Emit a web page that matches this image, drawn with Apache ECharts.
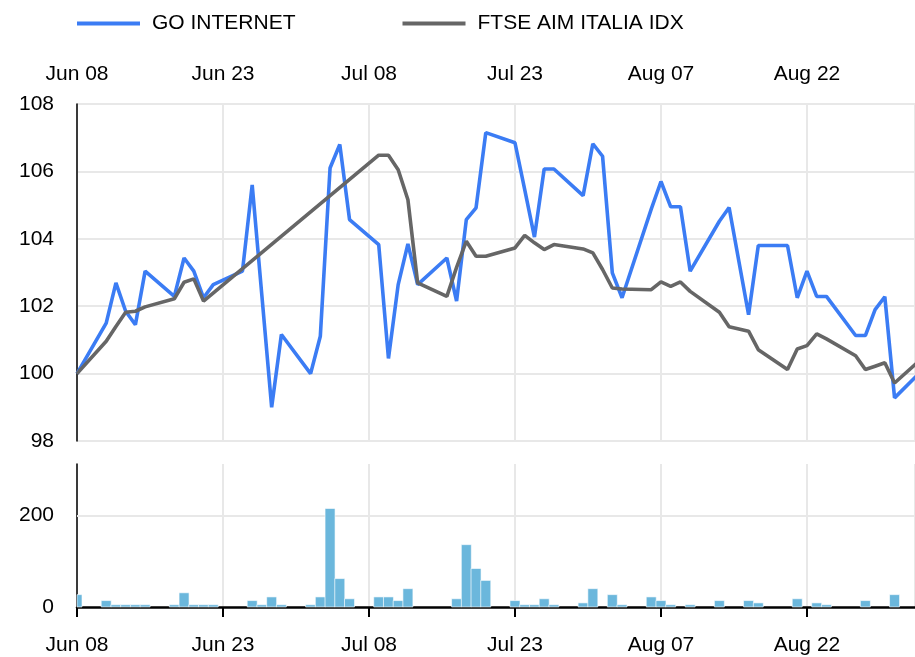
<!DOCTYPE html>
<html><head><meta charset="utf-8">
<script src="https://cdn.jsdelivr.net/npm/echarts@6/dist/echarts.min.js"></script>
<style>html,body{margin:0;padding:0;background:#fff}#c{width:915px;height:657px}</style>
</head><body><div id="c"></div>
<script>
// ---- data (2018) ----
const priceDates = ['Jun 08','Jun 11','Jun 12','Jun 13','Jun 14','Jun 15','Jun 18','Jun 19','Jun 20','Jun 21','Jun 22','Jun 25','Jun 26','Jun 27','Jun 28','Jun 29',
  'Jul 02','Jul 03','Jul 04','Jul 05','Jul 06','Jul 09','Jul 10','Jul 11','Jul 12','Jul 13','Jul 16','Jul 17','Jul 18','Jul 19','Jul 20','Jul 23','Jul 24','Jul 25','Jul 26','Jul 27','Jul 30','Jul 31',
  'Aug 01','Aug 02','Aug 03','Aug 06','Aug 07','Aug 08','Aug 09','Aug 10','Aug 13','Aug 14','Aug 16','Aug 17','Aug 20','Aug 21','Aug 22','Aug 23','Aug 24','Aug 27','Aug 28','Aug 29','Aug 30','Aug 31','Sep 03'];
const goInternet = [100.0,101.50,102.69,101.85,101.45,103.04,102.29,103.43,103.04,102.25,102.64,103.04,105.60,102.30,99.0,101.16,
  100.0,101.11,106.10,106.80,104.57,103.83,100.45,102.64,103.85,102.64,103.43,102.15,104.57,104.92,107.15,106.85,105.46,104.05,106.07,106.07,105.28,106.82,
  106.45,102.99,102.25,104.88,105.70,104.95,104.95,103.04,104.52,104.93,101.75,103.80,103.80,102.25,103.04,102.29,102.29,101.13,101.13,101.90,102.28,99.28,100.14];
const ftseAim = [100.0,100.96,101.40,101.82,101.85,101.98,102.22,102.71,102.81,102.15,null,null,null,null,null,null,
  null,null,null,null,null,106.48,106.48,106.05,105.16,102.69,102.29,103.15,103.93,103.48,103.48,103.73,104.10,103.88,103.68,103.83,103.70,103.58,
  103.09,102.54,102.51,102.49,102.72,102.59,102.72,102.44,101.82,101.39,101.26,100.71,100.12,100.73,100.83,101.18,101.03,100.53,100.12,100.22,100.32,99.72,100.50];
const volumeDates = ['Jun 08','Jun 11','Jun 12','Jun 13','Jun 14','Jun 15','Jun 18','Jun 19','Jun 20','Jun 21','Jun 22','Jun 26','Jun 27','Jun 28','Jun 29',
  'Jul 02','Jul 03','Jul 04','Jul 05','Jul 06','Jul 09','Jul 10','Jul 11','Jul 12','Jul 17','Jul 18','Jul 19','Jul 20','Jul 23','Jul 24','Jul 25','Jul 26','Jul 27','Jul 30','Jul 31',
  'Aug 02','Aug 03','Aug 06','Aug 07','Aug 08','Aug 10','Aug 13','Aug 16','Aug 17','Aug 21','Aug 23','Aug 24','Aug 28','Aug 31'];
const volumes = [27,14,5,5,5,5,5,31,5,5,5,14,5,22,5,
  5,22,215,62,18,22,22,14,40,18,136,84,58,14,5,5,18,5,9,40,
  27,5,22,14,5,5,14,14,9,18,9,5,14,27];
const xTickLabels = ['Jun 08','Jun 23','Jul 08','Jul 23','Aug 07','Aug 22'];
const seriesNames = ['GO INTERNET','FTSE AIM ITALIA IDX'];
const volumeGridValue = [200];

const MONTHS = {Jun:5, Jul:6, Aug:7, Sep:8};
const START = Date.UTC(2018,5,8);
function dayIdx(s){ const p = s.split(' '); return (Date.UTC(2018, MONTHS[p[0]], +p[1]) - START) / 86400000; }

const FONT = 'Liberation Sans';
const GRIDC = '#e8e8e8';
const BAR_PX = 10;
const chart = echarts.init(document.getElementById('c'), null, {renderer:'canvas'});
const xLab = v => { const i = Math.round(v/15); return (Math.abs(v - i*15) < 1e-6 && xTickLabels[i]) ? xTickLabels[i] : ''; };

function renderVolume(params, api){
  const x = api.value(0), v = api.value(1);
  const top = api.coord([x, v]);
  const base = api.coord([x, 0]);
  const cs = params.coordSys;
  const rect = echarts.graphic.clipRectByRect(
    {x: top[0] - BAR_PX/2, y: top[1], width: BAR_PX, height: base[1] - top[1]},
    {x: cs.x, y: cs.y, width: cs.width, height: cs.height});
  if (!rect) return null;
  return {type:'rect', shape:rect, style:{fill:'#6bb7dc', stroke:'#ffffff', lineWidth:0.6}};
}

chart.setOption({
  animation:false,
  backgroundColor:'#fff',
  textStyle:{fontFamily:FONT},
  legend:{
    data:seriesNames, left:77, top:13, padding:0, itemWidth:63, itemHeight:4, itemGap:107, icon:'rect',
    textStyle:{fontFamily:FONT, fontSize:21, color:'#000', padding:[0,0,0,7]}
  },
  grid:[
    {left:77, right:0, top:104, height:337},
    {left:77, right:0, top:464, height:143}
  ],
  xAxis:[
    {type:'value', gridIndex:0, position:'top', min:0, max:86.1, interval:15,
     axisLine:{show:false}, axisTick:{show:false},
     axisLabel:{fontFamily:FONT, fontSize:21, color:'#000', margin:19, formatter:xLab, showMaxLabel:false},
     splitLine:{show:true, lineStyle:{color:GRIDC, width:2}}},
    {type:'value', gridIndex:1, position:'bottom', min:0, max:86.1, interval:15,
     axisLine:{show:true, onZero:false, lineStyle:{color:'#000', width:2.5}},
     axisTick:{show:true, length:10, lineStyle:{color:'#000', width:2}},
     axisLabel:{fontFamily:FONT, fontSize:21, color:'#000', margin:28, formatter:xLab, showMaxLabel:false},
     splitLine:{show:true, lineStyle:{color:GRIDC, width:2}}}
  ],
  yAxis:[
    {type:'value', gridIndex:0, min:98, max:108, interval:2,
     axisLine:{show:true, lineStyle:{color:'#000', width:1.5}}, axisTick:{show:false},
     axisLabel:{fontFamily:FONT, fontSize:21, color:'#000', margin:23},
     splitLine:{show:true, lineStyle:{color:GRIDC, width:2}}},
    {type:'value', gridIndex:1, min:0, max:312, interval:200,
     axisLine:{show:true, lineStyle:{color:'#000', width:1.5}}, axisTick:{show:false},
     axisLabel:{fontFamily:FONT, fontSize:21, color:'#000', margin:23, showMaxLabel:false,
       formatter:v => (v % 200 === 0 ? String(v) : '')},
     splitLine:{show:false}}
  ],
  series:[
    {name:seriesNames[0], type:'line', xAxisIndex:0, yAxisIndex:0, showSymbol:false, symbol:'none',
     data:priceDates.map((d,i)=>[dayIdx(d), goInternet[i]]),
     lineStyle:{color:'#3b7cf4', width:3.6}, itemStyle:{color:'#3b7cf4'}, z:3},
    {name:seriesNames[1], type:'line', xAxisIndex:0, yAxisIndex:0, showSymbol:false, symbol:'none', connectNulls:true,
     data:priceDates.map((d,i)=>[dayIdx(d), ftseAim[i]]),
     lineStyle:{color:'#666666', width:3.6}, itemStyle:{color:'#666666'}, z:4},
    {name:'grid200', type:'line', xAxisIndex:1, yAxisIndex:1, data:[], silent:true, z:1,
     markLine:{silent:true, symbol:'none', label:{show:false}, animation:false, z:1,
       data:volumeGridValue.map(v=>({yAxis:v})),
       lineStyle:{color:GRIDC, width:2, type:'solid'}}},
    {name:'Volume', type:'custom', xAxisIndex:1, yAxisIndex:1, renderItem:renderVolume,
     encode:{x:0, y:1},
     data:volumeDates.map((d,i)=>[dayIdx(d), volumes[i]]), z:3}
  ]
});
</script></body></html>
